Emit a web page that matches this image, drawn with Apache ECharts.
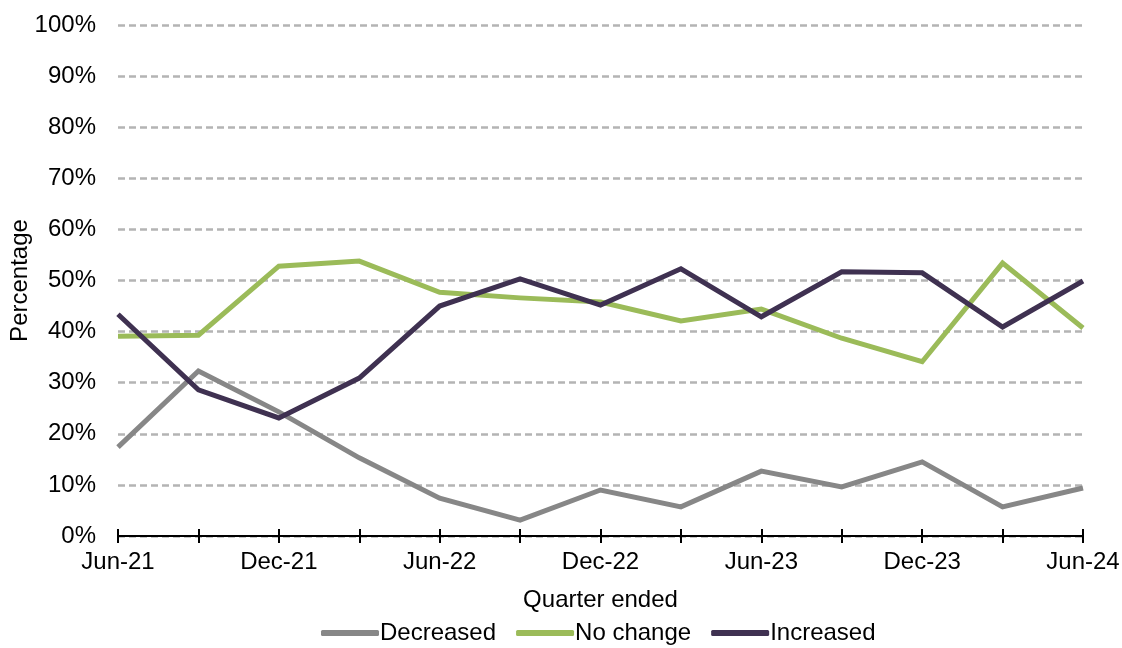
<!DOCTYPE html>
<html>
<head>
<meta charset="utf-8">
<script src="https://cdn.jsdelivr.net/npm/echarts@6/dist/echarts.min.js"></script>
<style>
  html, body { margin: 0; padding: 0; background: #fff; }
  #chart { width: 1122px; height: 648px; }
</style>
</head>
<body>
<div id="chart"></div>
<script>
const quarters = ['Jun-21', 'Sep-21', 'Dec-21', 'Mar-22', 'Jun-22', 'Sep-22', 'Dec-22',
    'Mar-23', 'Jun-23', 'Sep-23', 'Dec-23', 'Mar-24', 'Jun-24'];
const decreased = [17.4, 32.3, 24.3, 15.3, 7.4, 3.1, 9.0, 5.7, 12.7, 9.6, 14.5, 5.7, 9.4];
const noChange = [39.1, 39.3, 52.8, 53.8, 47.7, 46.6, 45.8, 42.1, 44.4, 38.7, 34.1, 53.4, 40.7];
const increased = [43.4, 28.6, 23.1, 30.9, 45.0, 50.3, 45.2, 52.3, 42.9, 51.7, 51.5, 40.9, 49.9];

const font = '"Liberation Sans", Arial, sans-serif';
const textColor = '#000';

const chart = echarts.init(document.getElementById('chart'));

const lineSeries = (name, data, color) => ({
    name: name,
    type: 'line',
    data: data,
    symbol: 'none',
    xAxisIndex: 0,
    lineStyle: { width: 5, color: color, join: 'miter' },
    itemStyle: { color: color }
});

const option = {
    backgroundColor: '#fff',
    animation: false,
    textStyle: { fontFamily: font },
    grid: {
        left: 118,
        right: 39,
        top: 25,
        bottom: 112,
        containLabel: false,
        outerBoundsMode: 'none'
    },
    legend: {
        bottom: -2,
        left: 316,
        itemWidth: 58,
        itemHeight: 6,
        itemGap: 20,
        icon: 'roundRect',
        textStyle: { color: textColor, fontSize: 24, fontFamily: font, padding: [0, 0, 0, -4] },
        data: ['Decreased', 'No change', 'Increased']
    },
    xAxis: [
        {
            type: 'category',
            data: quarters,
            boundaryGap: false,
            name: 'Quarter ended',
            nameLocation: 'middle',
            nameGap: 52,
            nameTextStyle: { color: textColor, fontSize: 24, fontFamily: font },
            axisLine: { lineStyle: { color: '#000', width: 2 } },
            axisTick: { show: true, length: 7, interval: 0, lineStyle: { color: '#000', width: 2 } },
            axisLabel: { interval: 1, color: textColor, fontSize: 24, margin: 14, fontFamily: font },
            splitLine: { show: false }
        },
        {
            // second copy of the axis so the ticks cross the line
            type: 'category',
            data: quarters,
            boundaryGap: false,
            position: 'bottom',
            axisLine: { show: false },
            axisTick: { show: true, inside: true, length: 7, interval: 0, lineStyle: { color: '#000', width: 2 } },
            axisLabel: { show: false },
            splitLine: { show: false }
        }
    ],
    yAxis: {
        type: 'value',
        min: 0,
        max: 100,
        interval: 10,
        name: 'Percentage',
        nameLocation: 'middle',
        nameGap: 86,
        nameMoveOverlap: false,
        nameRotate: 90,
        nameTextStyle: { color: textColor, fontSize: 24, fontFamily: font },
        axisLine: { show: false },
        axisTick: { show: false },
        axisLabel: { color: textColor, fontSize: 24, margin: 22, fontFamily: font, formatter: '{value}%' },
        splitLine: { lineStyle: { color: '#b4b4b4', width: 2.5, type: [7, 4] } }
    },
    series: [
        lineSeries('Decreased', decreased, '#878787'),
        lineSeries('No change', noChange, '#9bbb59'),
        lineSeries('Increased', increased, '#3f3151')
    ]
};

chart.setOption(option);
</script>
</body>
</html>
